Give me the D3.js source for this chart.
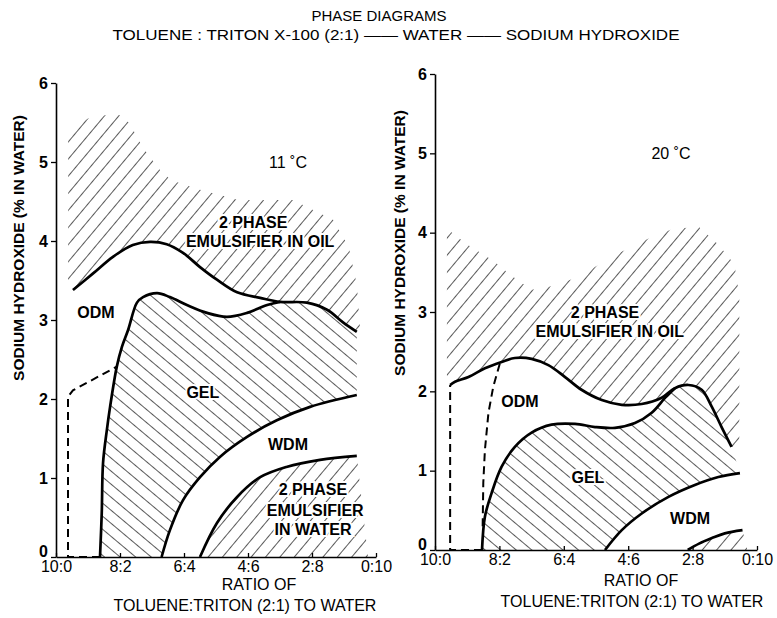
<!DOCTYPE html>
<html>
<head>
<meta charset="utf-8">
<script src="https://cdn.jsdelivr.net/npm/d3@7"></script>
<style>
  body { margin: 0; background: #fff; }
  svg { display: block; }
  text { font-family: "Liberation Sans", Arial, sans-serif; fill: #000; }
</style>
</head>
<body>
<div id="container"></div>
<script>
// axis ticks (x = % water, 0 at 10:0, 100 at 0:10)
const ratioValues = [0, 20, 40, 60, 80, 100];
const ratioTicks = ["10:0", "8:2", "6:4", "4:6", "2:8", "0:10"];
const naohTicks = [0, 1, 2, 3, 4, 5, 6];

// ---- 11 °C ----
// upper edge of the hatched 2-phase (oil) area
const oilTop11 = [[3.8, 3.45], [3.8, 5.4], [10, 5.55], [19, 5.62], [23, 5.49], [27, 5.19], [32.5, 4.9], [36, 4.77],
  [45, 4.65], [57, 4.52], [74, 4.52], [86.6, 4.27], [91.5, 3.92], [94, 3.45], [95, 2.9]];
// 2-phase oil / ODM boundary
const oil11 = [[5.3, 3.38], [11.6, 3.59], [17.8, 3.8], [24, 3.95], [29.4, 3.99], [34.6, 3.96], [39.7, 3.85],
  [45, 3.67], [50.3, 3.51], [56.6, 3.35], [63.8, 3.28], [70, 3.23], [78.4, 3.22], [84.7, 3.13], [89.7, 2.97], [94, 2.85]];
// ODM / GEL boundary
const gelTop11 = [[13.75, 0], [14.3, 0.56], [14.7, 1.19], [15.9, 1.61], [16.9, 1.9], [19, 2.41], [20.6, 2.66],
  [22.5, 2.87], [25.3, 3.22], [27.2, 3.29], [31.6, 3.34], [35.6, 3.29], [40.9, 3.19], [47.2, 3.09], [53.4, 3.04],
  [59.7, 3.09], [66, 3.19], [70, 3.23]];
// GEL / WDM boundary
const gelBot11 = [[33, 0], [35.6, 0.34], [39.7, 0.72], [45, 1.01], [51.3, 1.27], [59.7, 1.52], [69, 1.73], [79.4, 1.9], [94, 2.05]];
// WDM / 2-phase water boundary
const water11 = [[45, 0], [50.3, 0.43], [56.6, 0.76], [63.8, 1.01], [72, 1.14], [82.5, 1.23], [94, 1.28]];
const waterEdge11 = [[97.5, 0], [45, 0]];
const dash11 = [[13.75, 0], [3.75, 0], [3.75, 2.03], [5.3, 2.11], [19, 2.41]];

// ---- 20 °C ----
const oilTop20 = [[3.7, 2.2], [3.7, 4.05], [10, 3.85], [18, 3.65], [24, 3.45], [30, 3.28], [37, 3.33], [45, 3.45],
  [55, 3.7], [66, 3.92], [74, 4.05], [82, 4.07], [88, 3.85], [93, 3.6], [94.5, 3.2], [94.5, 1.25]];
const oil20 = [[4.7, 2.08], [6.2, 2.12], [10.4, 2.18], [15.5, 2.29], [20.7, 2.37], [24.8, 2.42], [30, 2.41],
  [35.2, 2.33], [40.4, 2.18], [45.5, 2.02], [51.8, 1.89], [58, 1.83], [64.2, 1.84], [70.4, 1.92], [74.5, 2.04],
  [78.7, 2.08], [82.8, 2.02], [85.9, 1.81], [89, 1.55], [92.1, 1.3]];
const gelTop20 = [[14.6, 0], [15.5, 0.42], [17.6, 0.72], [20.7, 1.05], [24.8, 1.3], [30, 1.48], [36.2, 1.58],
  [43.5, 1.59], [49.7, 1.55], [55.9, 1.54], [62.1, 1.6], [67.3, 1.73], [71.5, 1.92], [74.5, 2.04]];
const gelBot20 = [[52.8, 0], [58, 0.25], [64.2, 0.46], [72.5, 0.67], [80.7, 0.82], [88, 0.92], [94.7, 0.97]];
const water20 = [[78.5, 0], [82, 0.08], [86, 0.15], [90, 0.21], [95.5, 0.25]];
const waterEdge20 = [[97, 0], [78.5, 0]];
const dash20a = [[14.6, 0], [4.7, 0], [4.7, 2.08]];
const dash20b = [[14.8, 0.3], [15, 0.85], [15.5, 1.26], [16.6, 1.73], [18.1, 2.06], [20.2, 2.36]];

// region labels (data units)
const labels11 = [
  {t: "11 ˚C", x: 72.5, y: 5.0, bold: false},
  {t: "2 PHASE", x: 61.6, y: 4.23}, {t: "EMULSIFIER IN OIL", x: 63.8, y: 3.99},
  {t: "ODM", x: 12.5, y: 3.09}, {t: "GEL", x: 45.9, y: 2.08}, {t: "WDM", x: 72.5, y: 1.42},
  {t: "2 PHASE", x: 80.3, y: 0.85}, {t: "EMULSIFIER", x: 81, y: 0.59}, {t: "IN WATER", x: 80.3, y: 0.35}
];
const labels20 = [
  {t: "20 ˚C", x: 73.3, y: 5.0, bold: false},
  {t: "2 PHASE", x: 52.8, y: 3.0}, {t: "EMULSIFIER IN OIL", x: 54.3, y: 2.75},
  {t: "ODM", x: 26.4, y: 1.87}, {t: "GEL", x: 47.5, y: 0.92}, {t: "WDM", x: 79.2, y: 0.4}
];

const width = 777, height = 618;
const svg = d3.select("#container").append("svg").attr("width", width).attr("height", height);
const defs = svg.append("defs");

function hatch(id, angle, size) {
  defs.append("pattern")
    .attr("id", id)
    .attr("patternUnits", "userSpaceOnUse")
    .attr("width", size).attr("height", size)
    .attr("patternTransform", `rotate(${angle})`)
    .append("line")
    .attr("x1", 0).attr("y1", 0).attr("x2", 0).attr("y2", size)
    .attr("stroke", "#000").attr("stroke-width", 1.3);
}
hatch("fwd", 40, 11);
hatch("back", -50, 10);

const smooth = d3.line().curve(d3.curveCatmullRom);
const straight = d3.line();

function region(parts, x, y) {
  return parts.map(([pts, isSmooth], i) => {
    const p = (isSmooth ? smooth : straight)(pts.map(d => [x(d[0]), y(d[1])]));
    return i ? p.replace(/^M/, "L") : p;
  }).join("") + "Z";
}

function panel(o) {
  const {x, y} = o;
  const g = svg.append("g");

  // hatched areas
  o.regions.forEach(r => {
    g.append("path").attr("d", region(r.parts, x, y)).attr("fill", `url(#${r.fill})`).attr("stroke", "none");
  });

  // boundaries
  o.lines.forEach(pts => {
    g.append("path").attr("d", smooth(pts.map(d => [x(d[0]), y(d[1])])))
      .attr("fill", "none").attr("stroke", "#000").attr("stroke-width", 2.7).attr("stroke-linejoin", "round");
  });
  o.dashed.forEach(pts => {
    g.append("path").attr("d", straight(pts.map(d => [x(d[0]), y(d[1])])))
      .attr("fill", "none").attr("stroke", "#000").attr("stroke-width", 2).attr("stroke-dasharray", "8,5");
  });

  // axes
  const ax = g.append("g").attr("transform", `translate(0,${y(0)})`)
    .call(d3.axisBottom(x).tickValues(ratioValues).tickFormat((d, i) => ratioTicks[i])
      .tickSizeInner(-4).tickSizeOuter(0).tickPadding(4));
  ax.selectAll("text").attr("font-size", 16).attr("font-family", "Liberation Sans, Arial, sans-serif");
  const ay = g.append("g").attr("transform", `translate(${x(0)},0)`)
    .call(d3.axisLeft(y).tickValues(naohTicks).tickFormat(d3.format("d"))
      .tickSizeInner(5).tickSizeOuter(0).tickPadding(3));
  ay.selectAll("text").attr("font-size", 16).attr("font-weight", "bold").attr("font-family", "Liberation Sans, Arial, sans-serif");
  ay.selectAll(".tick").filter(d => d === 0).select("text").attr("dy", "-0.05em");
  [ax, ay].forEach(a => {
    a.select(".domain").attr("stroke-width", 1.6);
    a.selectAll(".tick line").attr("stroke-width", 1.3);
  });

  // region labels
  g.selectAll(".lbl").data(o.labels).join("text")
    .attr("x", d => x(d.x)).attr("y", d => y(d.y))
    .attr("text-anchor", "middle").attr("dominant-baseline", "central")
    .attr("font-size", 16).attr("font-weight", d => d.bold === false ? "normal" : "bold")
    .attr("stroke", "#fff").attr("stroke-width", 4).attr("paint-order", "stroke")
    .text(d => d.t);

  // axis titles
  g.append("text").attr("transform", `translate(${o.ytx},${o.yty}) rotate(-90)`)
    .attr("text-anchor", "middle").attr("dominant-baseline", "central")
    .attr("font-size", 15.5).attr("font-weight", "bold")
    .text("SODIUM HYDROXIDE (% IN WATER)");
  g.append("text").attr("x", o.xt1[0]).attr("y", o.xt1[1]).attr("text-anchor", "middle")
    .attr("font-size", 16).text("RATIO OF");
  g.append("text").attr("x", o.xt2[0]).attr("y", o.xt2[1]).attr("text-anchor", "middle")
    .attr("font-size", 16).text("TOLUENE:TRITON (2:1) TO WATER");
}

panel({
  x: d3.scaleLinear([0, 100], [56, 376]),
  y: d3.scaleLinear([0, 6], [557, 83]),
  regions: [
    {fill: "fwd", parts: [[oilTop11, false], [oil11.slice().reverse(), true]]},
    {fill: "back", parts: [[gelTop11, true], [oil11.filter(d => d[0] >= 70), true], [gelBot11.slice().reverse(), true]]},
    {fill: "fwd", parts: [[water11, true], [waterEdge11, false]]}
  ],
  lines: [oil11, gelTop11, gelBot11, water11],
  dashed: [dash11],
  labels: labels11,
  ytx: 18, yty: 248,
  xt1: [259, 590], xt2: [245, 611]
});

panel({
  x: d3.scaleLinear([0, 100], [435, 757]),
  y: d3.scaleLinear([0, 6], [550, 74]),
  regions: [
    {fill: "fwd", parts: [[oilTop20, false], [oil20.slice().reverse(), true]]},
    {fill: "back", parts: [[gelTop20, true], [oil20.filter(d => d[0] > 74.5), true], [gelBot20.slice().reverse(), true]]},
    {fill: "fwd", parts: [[water20, true], [waterEdge20, false]]}
  ],
  lines: [oil20, gelTop20, gelBot20, water20],
  dashed: [dash20a, dash20b],
  labels: labels20,
  ytx: 399, yty: 243,
  xt1: [641, 586], xt2: [632, 607]
});

// titles
svg.append("text").attr("x", 379).attr("y", 21).attr("text-anchor", "middle")
  .attr("font-size", 15).text("PHASE DIAGRAMS");
svg.append("text").attr("x", 396).attr("y", 40).attr("text-anchor", "middle")
  .attr("font-size", 15).attr("textLength", 567).attr("lengthAdjust", "spacingAndGlyphs")
  .text("TOLUENE : TRITON X-100 (2:1) —— WATER —— SODIUM HYDROXIDE");
</script>
</body>
</html>
